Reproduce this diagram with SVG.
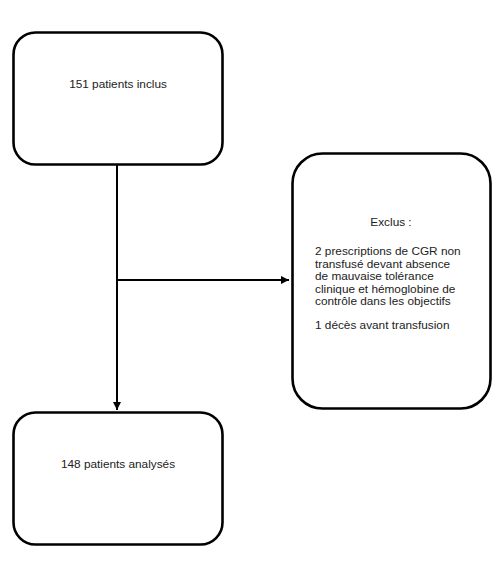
<svg xmlns="http://www.w3.org/2000/svg" width="497" height="563" viewBox="0 0 497 563">
  <style>
    .box { fill: #ffffff; stroke: #000000; stroke-width: 2.6; }
    .link { fill: none; stroke: #000000; stroke-width: 2; }
    .label { font-family: "Liberation Sans", Arial, sans-serif; font-size: 11.8px; fill: #222222; }
  </style>
  <defs>
    <marker id="arrow" viewBox="0 0 10 10" refX="10" refY="5" markerWidth="8" markerHeight="8" orient="auto" markerUnits="userSpaceOnUse">
      <path d="M0,0 L10,5 L0,10 z" fill="#000000"/>
    </marker>
  </defs>
  <rect width="497" height="563" fill="#ffffff"/>

  <g id="connectors">
    <line class="link" x1="117" y1="165" x2="117" y2="410" marker-end="url(#arrow)"/>
    <line class="link" x1="117" y1="280" x2="289" y2="280" marker-end="url(#arrow)"/>
  </g>

  <g id="inclus">
    <rect class="box" x="13.5" y="32.5" width="209" height="132" rx="22" ry="22"/>
    <text class="label" x="118" y="88" text-anchor="middle">151 patients inclus</text>
  </g>

  <g id="exclus">
    <rect class="box" x="292.5" y="153.5" width="198" height="255" rx="30" ry="30"/>
    <text class="label" x="391" y="226" text-anchor="middle">Exclus :</text>
    <text class="label" x="315" y="255">
      <tspan x="315" y="255">2 prescriptions de CGR non</tspan>
      <tspan x="315" y="267.5">transfusé devant absence</tspan>
      <tspan x="315" y="280">de mauvaise tolérance</tspan>
      <tspan x="315" y="292.5">clinique et hémoglobine de</tspan>
      <tspan x="315" y="305">contrôle dans les objectifs</tspan>
      <tspan x="315" y="329">1 décès avant transfusion</tspan>
    </text>
  </g>

  <g id="analyses">
    <rect class="box" x="13.5" y="412.5" width="209" height="132" rx="22" ry="22"/>
    <text class="label" x="118" y="468" text-anchor="middle">148 patients analysés</text>
  </g>
</svg>
